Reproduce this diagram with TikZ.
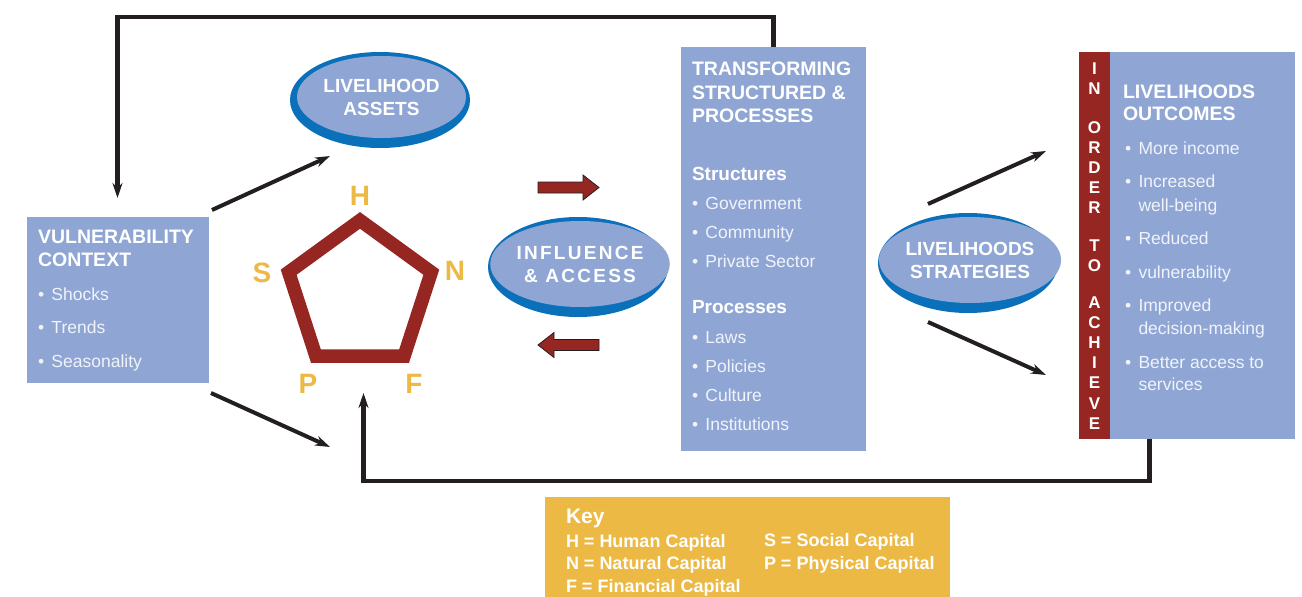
\documentclass[tikz,border=0pt]{standalone}
\usepackage{fontspec}
\setmainfont{Liberation Sans}
\usetikzlibrary{shapes.geometric,arrows.meta,positioning}

\definecolor{boxblue}{RGB}{143,166,212}
\definecolor{rimblue}{RGB}{10,112,186}
\definecolor{capred}{RGB}{150,38,34}
\definecolor{keygold}{RGB}{236,185,69}
\definecolor{inkblack}{RGB}{35,31,32}
\definecolor{itemwhite}{RGB}{240,243,250}

\newcommand{\itemdot}{\makebox[13.5pt][l]{\textbullet}}

\begin{document}
\begin{tikzpicture}[x=1pt,y=-1pt,line join=miter,
	every node/.style={inner sep=0pt,outer sep=0pt},
	panel/.style={rectangle,fill=boxblue,anchor=north west},
	head/.style={anchor=base west,text=white,font=\bfseries\fontsize{19.5}{23}\selectfont},
	sub/.style={anchor=base west,text=white,font=\bfseries\fontsize{19}{23}\selectfont},
	item/.style={anchor=base west,text=itemwhite,font=\fontsize{17.5}{21}\selectfont},
	barletter/.style={anchor=base,text=white,font=\bfseries\fontsize{17}{20}\selectfont},
	rim/.style={ellipse,fill=rimblue,minimum width=180pt,minimum height=100pt},
	bubble/.style={ellipse,fill=boxblue,minimum width=168pt,minimum height=86pt,text=white,align=center,font=\bfseries\fontsize{19}{23}\selectfont},
	capitals/.style={regular polygon,regular polygon sides=5,minimum size=150pt,draw=capred,line width=13.5pt},
	letter/.style={anchor=base,text=keygold,font=\bfseries\fontsize{28}{28}\selectfont},
	flow/.style={draw=inkblack,line width=4pt,-{Stealth[length=15pt,width=10pt]}},
	feedback/.style={flow,line width=4.5pt},
	blockarrow/.style={fill=capred,draw=inkblack,line width=0.8pt},
	keyhead/.style={anchor=base west,text=white,font=\bfseries\fontsize{21}{24}\selectfont},
	keyitem/.style={anchor=base west,text=white,font=\bfseries\fontsize{18}{21}\selectfont},
	block arrow/.pic={\draw[blockarrow] (-30.5,-5.5) -- (14.5,-5.5) -- (14.5,-12.5) -- (30.5,0) -- (14.5,12.5) -- (14.5,5.5) -- (-30.5,5.5) -- cycle;}]
	\useasboundingbox (0,0) rectangle (1302,597);

	% vulnerability context
	\node[panel,minimum width=182pt,minimum height=166pt] (vuln) at (27,217) {};
	\node[head] (vuln-t1) at (38,243) {VULNERABILITY};
	\node[head] (vuln-t2) at (38,266) {CONTEXT};
	\foreach \txt/\yy [count=\i] in {Shocks/300,Trends/333,Seasonality/367}
		\node[item] (vuln-\i) at (38,\yy) {\itemdot\txt};

	% transforming structures and processes
	\node[panel,minimum width=185pt,minimum height=404pt] (trans) at (681,47) {};
	\foreach \txt/\yy [count=\i] in {TRANSFORMING/75,STRUCTURED \&/99,PROCESSES/122}
		\node[head] (trans-t\i) at (692,\yy) {\txt};
	\node[sub] (structures) at (692,180) {Structures};
	\foreach \txt/\yy [count=\i] in {Government/209,Community/238,Private Sector/267}
		\node[item] (struct-\i) at (692,\yy) {\itemdot\txt};
	\node[sub] (processes) at (692,313) {Processes};
	\foreach \txt/\yy [count=\i] in {Laws/343,Policies/372,Culture/401,Institutions/430}
		\node[item] (proc-\i) at (692,\yy) {\itemdot\txt};

	% outcomes with the red side bar
	\node[panel,fill=capred,minimum width=31pt,minimum height=387pt] (achieve) at (1079,52) {};
	\node[panel,minimum width=185pt,minimum height=387pt] (outc) at (1110,52) {};
	\foreach \ch/\yy [count=\i] in {I/74,N/94,O/133,R/153,D/173,E/193,R/213,T/251,O/271,A/308,C/328,H/348,I/368,E/388,V/409,E/429}
		\node[barletter] (ach-\i) at (1094.5,\yy) {\ch};
	\node[head] (outc-t1) at (1123,98) {LIVELIHOODS};
	\node[head] (outc-t2) at (1123,120) {OUTCOMES};
	\foreach \txt/\yy [count=\i] in {More income/154,Increased/187,Reduced/244,vulnerability/278,Improved/311,Better access to/368}
		\node[item] (outc-\i) at (1125,\yy) {\itemdot\txt};
	\node[item] (outc-2b) at (1138.5,211) {well-being};
	\node[item] (outc-5b) at (1138.5,334) {decision-making};
	\node[item] (outc-6b) at (1138.5,390) {services};

	% ellipses
	\node[rim,minimum height=96pt] (assets-rim) at (380,100) {};
	\node[bubble,minimum width=169pt,minimum height=82pt] (assets) at ([shift={(1.5,-3)}]assets-rim.center) {LIVELIHOOD\\ASSETS};
	\node[rim] (infl-rim) at (578,267) {};
	\node[bubble,font=\bfseries\fontsize{19}{23}\selectfont\addfontfeature{LetterSpace=12}] (infl) at ([shift={(2,-3)}]infl-rim.center) {INFLUENCE\\\& ACCESS};
	\node[rim] (strat-rim) at (968,263) {};
	\node[bubble] (strat) at ([shift={(2,-3)}]strat-rim.center) {LIVELIHOODS\\STRATEGIES};

	% asset pentagon
	\node[capitals] (pent) at (360,295.4) {};
	\node[letter] (H) at (360,205) {H};
	\node[letter] (N) at (455,280) {N};
	\node[letter] (F) at (414,393) {F};
	\node[letter] (P) at (308,393) {P};
	\node[letter] (S) at (262,282) {S};

	% red arrows between the ellipse and the boxes
	\pic at (568.5,187.5) {block arrow};
	\pic[rotate=180] at (568.5,345) {block arrow};

	% black arrows
	\coordinate (vuln-up) at (212,210);
	\coordinate (assets-in) at (330,156);
	\coordinate (vuln-down) at (211,393);
	\coordinate (pent-in) at (330,447);
	\coordinate (strat-up) at (928,204);
	\coordinate (outc-up) at (1046,151);
	\coordinate (strat-down) at (928,322);
	\coordinate (outc-down) at (1046,375);
	\draw[flow] (vuln-up) -- (assets-in);
	\draw[flow] (vuln-down) -- (pent-in);
	\draw[flow] (strat-up) -- (outc-up);
	\draw[flow] (strat-down) -- (outc-down);

	% feedback loops
	\coordinate (vuln-top) at (117.5,198);
	\coordinate (outc-foot) at (1149.5,439);
	\coordinate (pent-foot) at (363.5,393);
	\draw[feedback] (trans.north) -- ++(0,-30) -| (vuln-top);
	\draw[feedback] (outc-foot) -- ++(0,42) -| (pent-foot);

	% key
	\node[panel,fill=keygold,minimum width=405pt,minimum height=100pt] (key) at (545,497) {};
	\node[keyhead] (key-t) at (566,523) {Key};
	\foreach \txt/\xx/\yy [count=\i] in {H = Human Capital/566/547,N = Natural Capital/566/569,F = Financial Capital/566/592,S = Social Capital/764/546,P = Physical Capital/764/569}
		\node[keyitem] (key-\i) at (\xx,\yy) {\txt};
\end{tikzpicture}
\end{document}
